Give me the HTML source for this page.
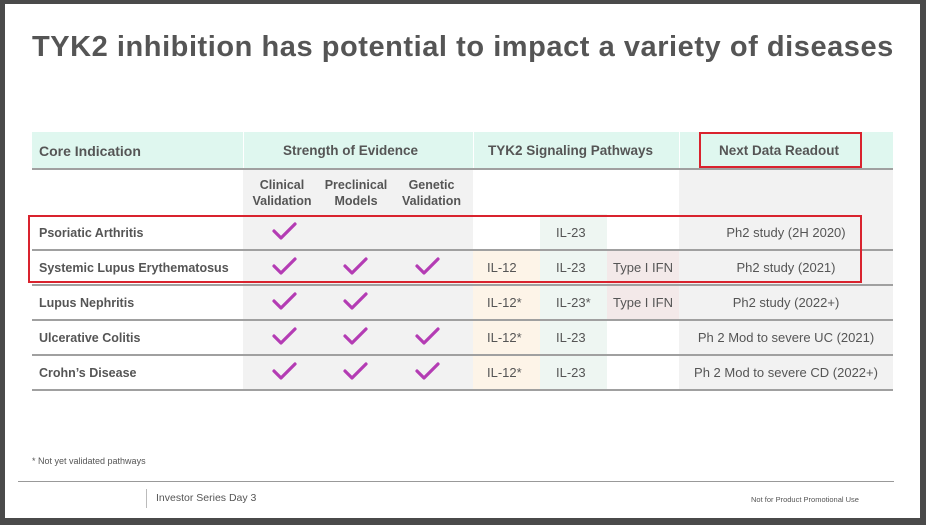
<!DOCTYPE html>
<html><head><meta charset="utf-8"><style>
body{margin:0;width:926px;height:525px;background:#4a4a4a;font-family:"Liberation Sans",sans-serif;overflow:hidden;position:relative}
.slide{position:absolute;left:5px;top:4px;width:915px;height:514px;background:#fff}
.a{position:absolute}
h1{position:absolute;left:32px;top:31px;margin:0;font-size:29px;font-weight:bold;color:#555;white-space:nowrap;letter-spacing:0.55px}
.t{position:absolute;font-size:13px;color:#555;white-space:nowrap}
.b{font-weight:bold}
.line{position:absolute;left:32px;width:861px;height:2px;background:#a0a0a0}
.red{position:absolute;border:2px solid #d9232e;box-sizing:border-box}
</style></head><body>
<div class="slide"></div>
<h1>TYK2 inhibition has potential to impact a variety of diseases</h1>
<div class="a" style="left:32px;top:132px;width:861px;height:36px;background:#dff7ef"></div>
<div class="a" style="left:243px;top:132px;width:1px;height:36px;background:#fff"></div>
<div class="a" style="left:473px;top:132px;width:1px;height:36px;background:#fff"></div>
<div class="a" style="left:679px;top:132px;width:1px;height:36px;background:#fff"></div>
<div class="a" style="left:243px;top:168px;width:230px;height:221px;background:#f2f2f2"></div>
<div class="a" style="left:679px;top:168px;width:214px;height:221px;background:#f2f2f2"></div>
<div class="a" style="left:473px;top:249px;width:67px;height:140px;background:#fdf4e8"></div>
<div class="a" style="left:540px;top:214px;width:67px;height:175px;background:#eef6f2"></div>
<div class="a" style="left:607px;top:249px;width:72px;height:70px;background:#f3e9e9"></div>
<div class="line" style="top:168px"></div>
<div class="line" style="top:249px"></div>
<div class="line" style="top:284px"></div>
<div class="line" style="top:319px"></div>
<div class="line" style="top:354px"></div>
<div class="line" style="top:389px"></div>
<div class="t b" style="left:39px;top:143px;font-size:14px">Core Indication</div>
<div class="t b" style="left:283px;top:143px;font-size:13.5px">Strength of Evidence</div>
<div class="t b" style="left:488px;top:143px;font-size:13.5px">TYK2 Signaling Pathways</div>
<div class="t b" style="left:719px;top:143px;font-size:13.5px">Next Data Readout</div>
<div class="t b" style="left:248px;top:177px;width:68px;text-align:center;line-height:16px;font-size:12.5px">Clinical<br>Validation</div>
<div class="t b" style="left:316px;top:177px;width:80px;text-align:center;line-height:16px;font-size:12.5px">Preclinical<br>Models</div>
<div class="t b" style="left:396px;top:177px;width:71px;text-align:center;line-height:16px;font-size:12.5px">Genetic<br>Validation</div>
<div class="t b" style="left:39px;top:226px;font-size:12.5px">Psoriatic Arthritis</div>
<div class="t b" style="left:39px;top:261px;font-size:12.5px">Systemic Lupus Erythematosus</div>
<div class="t b" style="left:39px;top:296px;font-size:12.5px">Lupus Nephritis</div>
<div class="t b" style="left:39px;top:331px;font-size:12.5px">Ulcerative Colitis</div>
<div class="t b" style="left:39px;top:366px;font-size:12.5px">Crohn’s Disease</div>
<svg class="a" style="left:0;top:0" width="926" height="525">
<defs><path id="c" d="M0,9 L7,16 L21,2" fill="none" stroke="#b43cb4" stroke-width="3.2" stroke-linecap="round" stroke-linejoin="round"/></defs>
<use href="#c" x="274" y="222"/>
<use href="#c" x="274" y="257"/><use href="#c" x="345" y="257"/><use href="#c" x="417" y="257"/>
<use href="#c" x="274" y="292"/><use href="#c" x="345" y="292"/>
<use href="#c" x="274" y="327"/><use href="#c" x="345" y="327"/><use href="#c" x="417" y="327"/>
<use href="#c" x="274" y="362"/><use href="#c" x="345" y="362"/><use href="#c" x="417" y="362"/>
</svg>
<div class="t" style="left:556px;top:225px">IL-23</div>
<div class="t" style="left:487px;top:260px">IL-12</div><div class="t" style="left:556px;top:260px">IL-23</div><div class="t" style="left:613px;top:260px">Type I IFN</div>
<div class="t" style="left:487px;top:295px">IL-12*</div><div class="t" style="left:556px;top:295px">IL-23*</div><div class="t" style="left:613px;top:295px">Type I IFN</div>
<div class="t" style="left:487px;top:330px">IL-12*</div><div class="t" style="left:556px;top:330px">IL-23</div>
<div class="t" style="left:487px;top:365px">IL-12*</div><div class="t" style="left:556px;top:365px">IL-23</div>
<div class="t" style="left:679px;top:225px;width:214px;text-align:center">Ph2 study (2H 2020)</div>
<div class="t" style="left:679px;top:260px;width:214px;text-align:center">Ph2 study (2021)</div>
<div class="t" style="left:679px;top:295px;width:214px;text-align:center">Ph2 study (2022+)</div>
<div class="t" style="left:679px;top:330px;width:214px;text-align:center">Ph 2 Mod to severe UC (2021)</div>
<div class="t" style="left:679px;top:365px;width:214px;text-align:center">Ph 2 Mod to severe CD (2022+)</div>
<div class="red" style="left:699px;top:132px;width:163px;height:36px"></div>
<div class="red" style="left:28px;top:215px;width:834px;height:68px"></div>
<div class="t" style="left:32px;top:456px;font-size:9px">* Not yet validated pathways</div>
<div class="a" style="left:18px;top:481px;width:876px;height:1px;background:#999"></div>
<div class="a" style="left:146px;top:489px;width:1px;height:19px;background:#bbb"></div>
<div class="t" style="left:156px;top:492px;font-size:10.5px">Investor Series Day 3</div>
<div class="t" style="left:751px;top:495px;font-size:7.5px">Not for Product Promotional Use</div>
</body></html>
